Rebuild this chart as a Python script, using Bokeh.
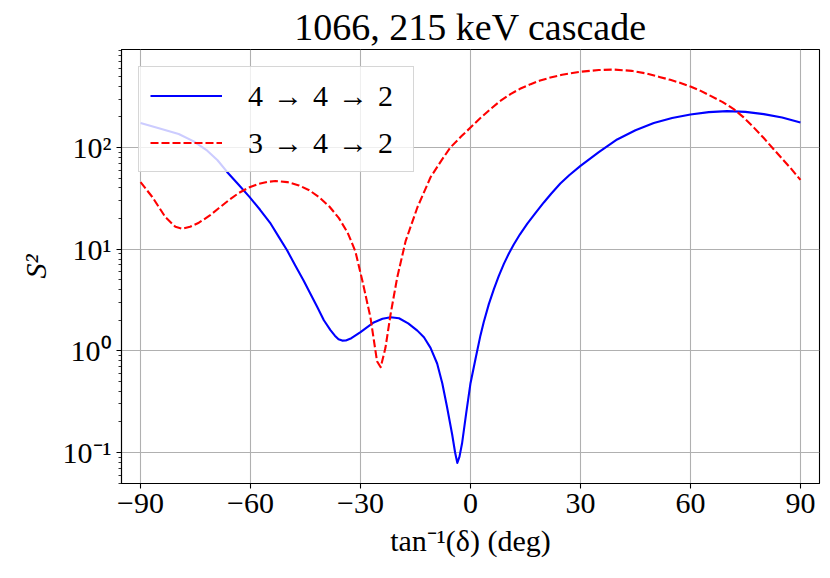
from bokeh.plotting import figure
from bokeh.models import Range1d, FixedTicker, CustomJSTickFormatter, Legend, LegendItem, ColumnDataSource
from bokeh.embed import file_html
from bokeh.resources import INLINE

# ---- data ----
angle_442 = [-90, -85, -79.6, -75.5, -71.8, -69, -66.4, -63.3, -60.3, -57.4, -54.5, -52.3, -50,
             -47.8, -45.5, -43.6, -41.8, -40, -38.2, -37, -36, -35, -34, -32.5, -30, -26.4, -24, -21.8,
             -19.5, -17, -14.5, -12.7, -10.9, -9.1, -7.7, -6.4, -5, -4.2, -3.6, -3.0, -2.3,
             -1.2, 0, 1.36, 2.7, 3.6, 5, 6.4, 7.7, 9.1, 10.5, 11.8, 13.5, 15.5, 17.7, 20, 22,
             24.5, 27, 30, 35, 40, 45, 50, 55, 60, 65, 70, 75, 80, 85, 90]
s2_442 = [174, 155, 136, 115, 93, 75, 57.5, 43.2, 32.7, 24.4, 17.8, 13.2, 9.7,
          6.9, 4.9, 3.6, 2.7, 2.0, 1.60, 1.41, 1.30, 1.26, 1.265, 1.33, 1.53, 1.9, 2.07, 2.14,
          2.09, 1.86, 1.58, 1.36, 1.07, 0.75, 0.48, 0.28, 0.15, 0.10, 0.079, 0.091, 0.123,
          0.24, 0.48, 0.83, 1.41, 1.91, 2.88, 4.07, 5.43, 7.16, 9.12, 11.1, 14.0, 17.8, 22.6, 28.8, 35.1,
          44.2, 53.7, 66, 90, 120, 148, 174, 195, 211, 223, 228, 224, 213, 197, 176]

angle_342 = [-90, -86.8, -83.2, -80.5, -78.6, -76.5, -74.1, -71, -68.6, -66, -63.2, -60.5, -57.7,
             -55.5, -53.2, -50, -46.8, -44, -41.4, -38.5, -35.9, -33.5, -31.4, -29.5, -27.3,
             -25.5, -24.5, -23.2, -21.8, -20, -17.7, -14.5, -10.9, -8, -5.5, -2.5, 0, 2.7, 5.45,
             8, 10.9, 13.5, 16.4, 19, 21.8, 25, 30, 35, 39, 44, 48.2, 51.5, 54.5, 57.3, 60,
             62.8, 65.5, 68.8, 71.8, 74.5, 77.3, 80, 82.7, 85, 87.5, 90]
s2_342 = [45.7, 32.6, 20.6, 16.6, 15.9, 16.6, 18.2, 21.6, 25.4, 30.2, 35.7, 40.3, 44,
          45.9, 46.8, 45.7, 42.4, 38, 32.7, 26.3, 20.2, 14.5, 9.5, 4.9, 2.14,
          0.79, 0.69, 1.07, 2.29, 5.25, 12, 25.7, 51, 74, 100, 129, 157, 195, 239,
          285, 335, 378, 420, 456, 488, 520, 556, 579, 585, 568, 533, 495, 463, 432, 398,
          361, 322, 280, 239, 198, 157, 124, 96, 77.6, 61.7, 48]

labels = ["4\u2004\u2192\u20044\u2004\u2192\u20042", "3\u2004\u2192\u20044\u2004\u2192\u20042"]
x_ticks = [-90, -60, -30, 0, 30, 60, 90]
y_ticks = [0.1, 1, 10, 100]
y_minor = [m * 10.0 ** k for k in range(-2, 3) for m in range(2, 10)]
title_text = "1066, 215 keV cascade"
x_label = "tan\u207b\u00b9(\u03b4) (deg)"
y_label = "S\u00b2"

FONT = "Liberation Serif"

p = figure(width=822, height=570, x_range=Range1d(-95.2, 95.2), y_range=Range1d(0.0495, 921),
           y_axis_type="log", output_backend="svg", toolbar_location=None,
           min_border_left=121, min_border_right=3, min_border_top=49, min_border_bottom=87)

p.title.text = title_text
p.title.align = "center"
p.title.text_font = FONT
p.title.text_font_size = "38px"
p.title.text_font_style = "normal"
p.title.text_color = "black"
p.title.standoff = 4

p.outline_line_color = "black"
p.outline_line_width = 1.1
p.background_fill_color = "white"
p.border_fill_color = "white"

src_a = ColumnDataSource(dict(x=angle_442, y=s2_442))
src_b = ColumnDataSource(dict(x=angle_342, y=s2_342))
r1 = p.line("x", "y", source=src_a, line_color="blue", line_width=2.1, line_join="round")
r2 = p.line("x", "y", source=src_b, line_color="red", line_width=2.1, line_dash="8 3", line_join="round")

# axes
p.xaxis.ticker = FixedTicker(ticks=x_ticks)
p.xaxis.formatter = CustomJSTickFormatter(code="return tick < 0 ? '\u2212' + Math.abs(tick) : String(tick);")
p.yaxis.ticker = FixedTicker(ticks=y_ticks, minor_ticks=y_minor)
p.yaxis.formatter = CustomJSTickFormatter(code="""
const e = Math.round(Math.log10(tick));
const sup = {'-1': '\u207b\u00b9', '0': '\u2070', '1': '\u00b9', '2': '\u00b2'};
return '10' + sup[String(e)];
""")
for ax in (p.xaxis[0], p.yaxis[0]):
    ax.major_label_text_font = FONT
    ax.major_label_text_font_size = "30px"
    ax.major_label_text_color = "black"
    ax.axis_label_text_font = FONT
    ax.axis_label_text_font_size = "30px"
    ax.axis_label_text_font_style = "normal"
    ax.axis_label_text_color = "black"
    ax.axis_line_color = "black"
    ax.axis_line_width = 1.1
    ax.major_tick_line_color = "black"
    ax.major_tick_line_width = 1.1
    ax.major_tick_in = 0
    ax.major_tick_out = 5
    ax.minor_tick_in = 0
    ax.minor_tick_out = 3
    ax.minor_tick_line_color = "black"
    ax.minor_tick_line_width = 0.8
    ax.major_label_standoff = 5
    ax.axis_label_standoff = 8
p.xaxis.minor_tick_line_color = None
p.xaxis.axis_label = x_label
p.yaxis.axis_label = y_label
p.yaxis.axis_label_text_font_style = "italic"

p.xgrid.ticker = FixedTicker(ticks=x_ticks)
p.ygrid.ticker = FixedTicker(ticks=y_ticks)
for g in (p.xgrid[0], p.ygrid[0]):
    g.grid_line_color = "#b0b0b0"
    g.grid_line_width = 1.1

legend = Legend(items=[LegendItem(label=labels[0], renderers=[r1]),
                       LegendItem(label=labels[1], renderers=[r2])],
                location="top_left", margin=17, padding=11, spacing=12,
                glyph_width=72, glyph_height=35, label_standoff=26, label_height=35,
                label_width=154,
                label_text_font=FONT, label_text_font_size="30px", label_text_color="black",
                background_fill_color="white", background_fill_alpha=0.8,
                border_line_color="#cccccc", border_line_alpha=0.8, border_line_width=1.1)
p.add_layout(legend)

open("out.html", "w").write(file_html(p, INLINE))
